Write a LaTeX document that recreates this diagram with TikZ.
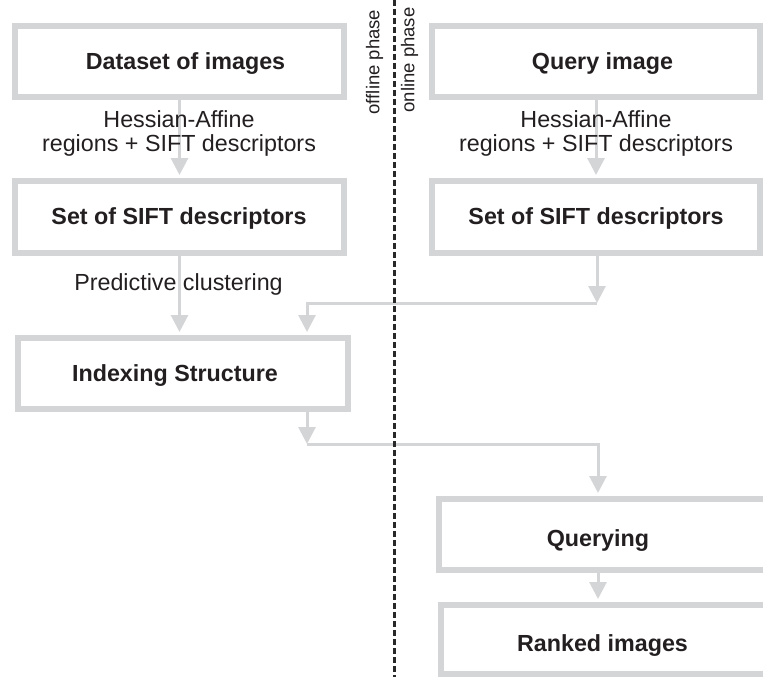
\documentclass[tikz,border=0pt]{standalone}
\usepackage{fontspec}
\setmainfont{Liberation Sans}
\usetikzlibrary{arrows.meta}
\definecolor{boxgray}{RGB}{212,213,215}
\definecolor{ink}{RGB}{35,31,32}
\definecolor{divider}{RGB}{40,40,40}
\begin{document}
\begin{tikzpicture}[x=1pt,y=-1pt,
  box/.style={draw=boxgray, line width=6pt, rectangle, inner sep=0pt},
  title/.style={text=ink, inner sep=0pt, anchor=base,
    font=\fontsize{23.3pt}{24pt}\selectfont\bfseries},
  note/.style={text=ink, inner sep=0pt, align=center,
    font=\fontsize{23.3pt}{24pt}\selectfont},
  phase/.style={text=ink, inner sep=0pt, rotate=90,
    font=\fontsize{18.5pt}{20pt}\selectfont},
  arr/.style={draw=boxgray, line width=3pt,
    -{Triangle[length=17pt,width=17pt]}}]
\useasboundingbox (0,0) rectangle (763,677);

% process boxes (positions given by border centre lines)
\node[box, minimum width=329pt, minimum height=71pt] (A) at (179.5,61.5) {};
\node[box, minimum width=329pt, minimum height=72pt] (B) at (179.5,217) {};
\node[box, minimum width=330pt, minimum height=71pt] (C) at (183,373.5) {};
\node[box, minimum width=328pt, minimum height=71pt] (D) at (596,61.5) {};
\node[box, minimum width=328pt, minimum height=72pt] (E) at (596,217) {};
\node[box, minimum width=329pt, minimum height=71pt] (F) at (603.5,534.5) {};
\node[box, minimum width=329pt, minimum height=69pt] (G) at (605.5,639.5) {};

% box titles
\node[title] (tA) at (185.5,70) {Dataset of images};
\node[title] (tB) at (179,224.5) {Set of SIFT descriptors};
\node[title] (tC) at (175,381.7) {Indexing Structure};
\node[title] (tD) at (602.5,70) {Query image};
\node[title] (tE) at (596,224.5) {Set of SIFT descriptors};
\node[title] (tF) at (598,546) {Querying};
\node[title] (tG) at (602.5,651.7) {Ranked images};

% junction points of the elbow connectors
\coordinate (j1) at (597,303);
\coordinate (j2) at (307,303);
\coordinate (j3) at (307,444);
\coordinate (j4) at (598,444);

% connectors
\draw[arr, shorten >=3pt] (A.south) -- (B.north);
\draw[arr, shorten >=3pt] (D.south) -- (E.north);
\draw[arr, shorten >=3pt] (B.south) -- (B.south |- C.north);
\draw[arr] (j1 |- E.south) -- (j1);
\draw[arr, shorten >=3pt] (j1) -- (j2) -- (j2 |- C.north);
\draw[arr] (j3 |- C.south) -- (j3);
\draw[arr, shorten >=3pt] (j3) -- (j4) -- (j4 |- F.north);
\draw[arr, shorten >=3pt] (j4 |- F.south) -- (j4 |- G.north);

% connector labels
\node[note] (hA) at (179,133) {Hessian-Affine\\regions + SIFT descriptors};
\node[note] (hD) at (596,133) {Hessian-Affine\\regions + SIFT descriptors};
\node[note, anchor=base] (pc) at (178.5,290) {Predictive clustering};

% phase separator
\coordinate (sepTop) at (394,0);
\coordinate (sepBot) at (394,677);
\draw[divider, line width=3pt, dash pattern=on 6pt off 3pt] (sepTop) -- (sepBot);
\node[phase] (off) at (374.5,62) {offline phase};
\node[phase] (on) at (409.5,60) {online phase};
\end{tikzpicture}
\end{document}
